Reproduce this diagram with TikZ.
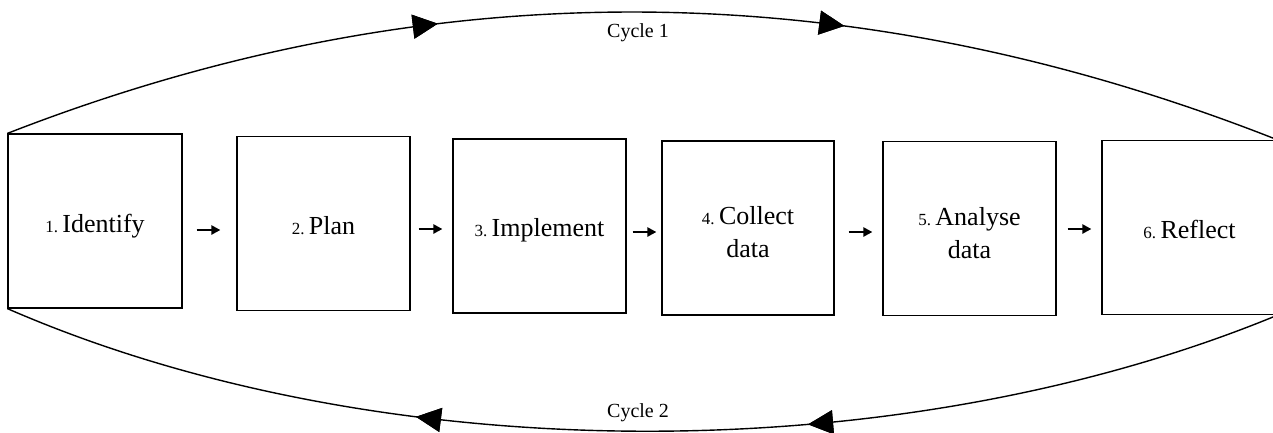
\documentclass[tikz,border=0pt]{standalone}
\usepackage{fontspec}
\setmainfont{Liberation Serif}
\usetikzlibrary{arrows.meta,decorations.markings}
\newcommand\stepnum[1]{{\fontsize{17}{17}\selectfont #1}}
\tikzset{
  stepbox/.style={draw, line width=1.2pt, inner sep=0pt, minimum width=#1, minimum height=174pt},
  steptext/.style={anchor=base, align=center, font=\fontsize{26}{33}\selectfont, inner sep=0pt},
  flow/.style={line width=2.2pt, -{Triangle[length=9pt,width=9pt]}},
  cyc/.style={line width=1.4pt},
  cyclabel/.style={font=\fontsize{20}{24}\selectfont, inner sep=0pt},
  bigtip/.style={postaction={decorate}, decoration={markings,
    mark=at position #1 with {\arrow{Triangle[length=25pt,width=24pt]}}}},
}
\begin{document}
\begin{tikzpicture}[x=1pt,y=-1pt]
\useasboundingbox (0,0) rectangle (1273,432);
% boxes
\node[stepbox=174pt] (b1) at (95,221) {};
\node[stepbox=173pt] (b2) at (323.5,223.5) {};
\node[stepbox=173pt] (b3) at (539.5,226) {};
\node[stepbox=172pt] (b4) at (748,228) {};
\node[stepbox=173pt] (b5) at (969.5,228.5) {};
\node[stepbox=175pt] (b6) at (1189.5,227.5) {};
% texts
\node[steptext] (t1) at (95,232) {\stepnum{1.}\,Identify};
\node[steptext] (t2) at (323.5,234) {\stepnum{2.}\,Plan};
\node[steptext] (t3) at (539.5,236) {\stepnum{3.}\,Implement};
\node[steptext] (t4) at (748,257) {\stepnum{4.}\,Collect\\data};
\node[steptext] (t5) at (969.5,258) {\stepnum{5.}\,Analyse\\data};
\node[steptext] (t6) at (1189.5,238) {\stepnum{6.}\,Reflect};
% small arrows
\draw[flow, shorten <=14pt, shorten >=16pt] ([yshift=-9pt]b1.east) -- ([yshift=-6.5pt]b2.west);
\draw[flow, shorten <=8pt, shorten >=10pt] ([yshift=-5.5pt]b2.east) -- ([yshift=-3pt]b3.west);
\draw[flow, shorten <=6pt, shorten >=5pt] ([yshift=-6pt]b3.east) -- ([yshift=-4pt]b4.west);
\draw[flow, shorten <=14pt, shorten >=10pt] ([yshift=-4pt]b4.east) -- ([yshift=-3.5pt]b5.west);
\draw[flow, shorten <=11pt, shorten >=10pt] ([yshift=-0.5pt]b5.east) -- ([yshift=-1.5pt]b6.west);
% cycles
\draw[cyc, bigtip=0.342, bigtip=0.655] (b1.north west) .. controls (429,-31) and (852,-28) .. (b6.north east);
\draw[cyc, bigtip=0.372, bigtip=0.674] (b6.south east) .. controls (900,471) and (380,471) .. (b1.south west);
\node[cyclabel] (c1) at (638,33) {Cycle 1};
\node[cyclabel] (c2) at (638,413) {Cycle 2};
\end{tikzpicture}
\end{document}
